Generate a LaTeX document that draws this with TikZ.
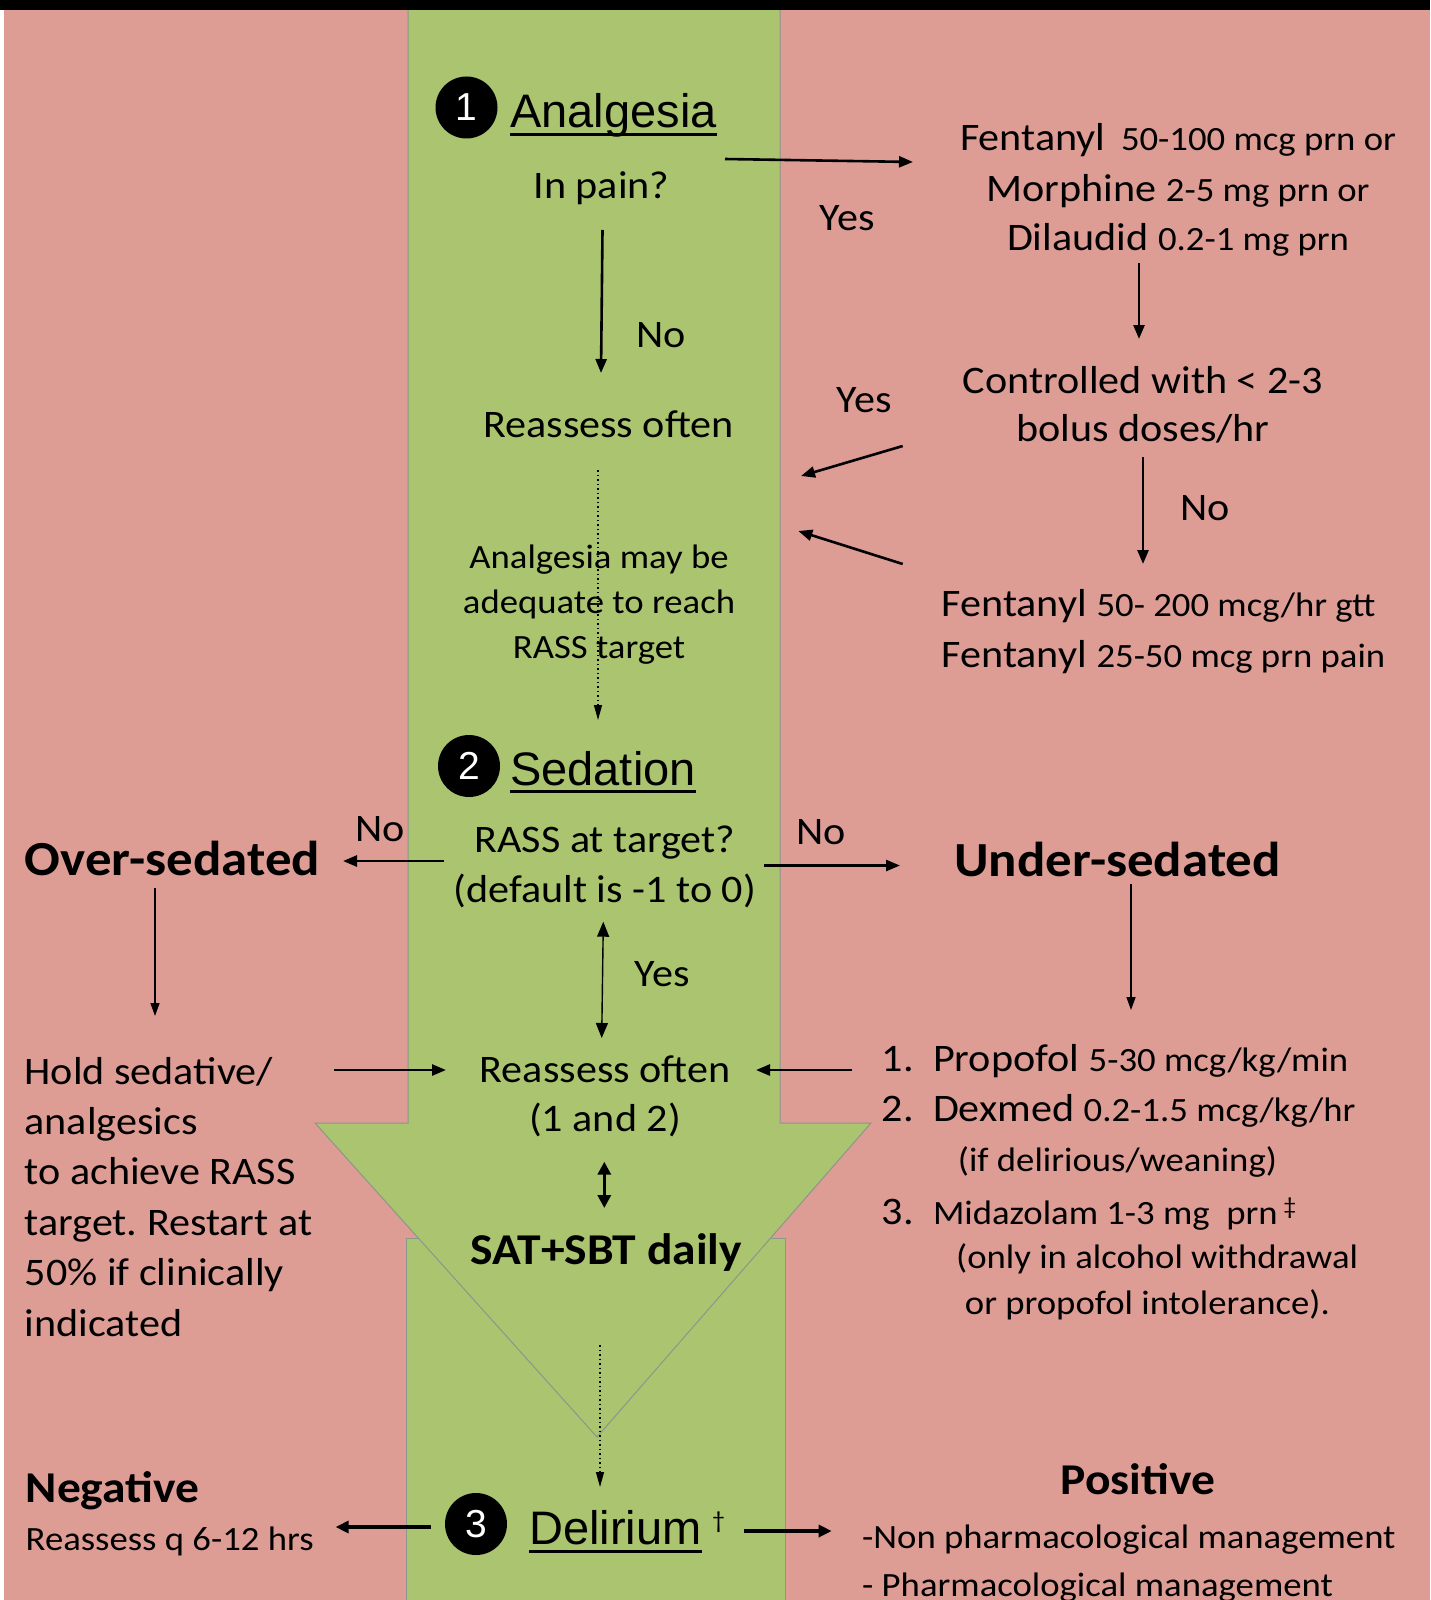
\documentclass[tikz,border=0pt]{standalone}
\usepackage{fontspec}
\setmainfont[FakeStretch=1.08]{Carlito}
\newfontfamily\arialf{Liberation Sans}
\usetikzlibrary{arrows.meta}
\definecolor{pinkc}{RGB}{221,157,149}
\definecolor{greenc}{RGB}{171,196,111}
\definecolor{outl}{RGB}{140,150,140}
\newcommand{\szA}{\fontsize{39}{47}\selectfont}
\newcommand{\szB}{\fontsize{34}{41}\selectfont}
\frenchspacing
\begin{document}
\begin{tikzpicture}[x=1pt,y=-1pt,
  tc/.style={inner sep=0pt, anchor=base, font=\szA},
  tl/.style={inner sep=0pt, anchor=base west, font=\szA},
  tsc/.style={inner sep=0pt, anchor=base, font=\szB},
  tsl/.style={inner sep=0pt, anchor=base west, font=\szB},
  hd/.style={inner sep=0pt, anchor=base west, font=\fontsize{49}{58}\selectfont\bfseries},
  hds/.style={inner sep=0pt, anchor=base west, font=\fontsize{44}{52}\selectfont\bfseries},
  sec/.style={inner sep=0pt, anchor=base west, font=\arialf\fontsize{47}{56}\selectfont},
  num/.style={circle, fill=black, minimum size=62pt, inner sep=0pt, text=white, font=\arialf\fontsize{39}{39}\selectfont},
  ul/.style={line width=3pt},
  arr/.style={line width=2.6pt, -{Triangle[length=14pt,width=11pt]}},
  thinarr/.style={line width=1.4pt, -{Triangle[length=13pt,width=9pt]}},
  dbl/.style={line width=1.4pt, {Triangle[length=15pt,width=12pt]}-{Triangle[length=15pt,width=12pt]}},
  dblthick/.style={line width=3.2pt, {Triangle[length=13pt,width=13pt]}-{Triangle[length=13pt,width=13pt]}},
  thickarr/.style={line width=3.2pt, -{Triangle[length=13pt,width=12pt]}},
  dotarr/.style={line width=1.3pt, dash pattern=on 1.5pt off 3pt, -{Triangle[length=15pt,width=8pt]}}
]
\useasboundingbox (0,0) rectangle (1430,1600);
\clip (0,0) rectangle (1430,1600);
% background
\fill[white] (0,0) rectangle (1430,1600);
\fill[pinkc] (4,0) rectangle (1430,1600);
\filldraw[fill=greenc, draw=outl, line width=1pt] (406,1238) rectangle (785,1620);
\fill[greenc] (408,0) -- (408,1123) -- (315,1123) -- (597,1437) -- (871,1123) -- (780,1123) -- (780,0) -- cycle;
\draw[outl, line width=1pt] (408,0) -- (408,1123) -- (315,1123) -- (597,1437) -- (871,1123) -- (780,1123) -- (780,0);
\fill[black] (0,0) rectangle (1430,10);

% ---------- 1 Analgesia ----------
\node[num] (c1) at (466.5,107.5) {1};
\node[sec] (anal) at (510,128) {Analgesia};
\draw[ul] ([yshift=-7pt]anal.base west) -- ([yshift=-7pt]anal.base east);
\node[tc] (pain) at (601.5,198) {In pain?};
\node[tc] (no1) at (661,347) {No};
\node[tc] (re1) at (608.5,437.7) {Reassess often};
\node[tsc] (am1) at (599,568) {Analgesia may be};
\node[tsc] (am2) at (599,613) {adequate to reach};
\node[tsc] (am3) at (599,658) {RASS target};
\node[tc] (yes1) at (847,230) {Yes};
\node[tc] (fen1) at (1178,150.6) {Fentanyl\hspace{0.4em}{\szB 50-100 mcg prn or}};
\node[tc] (fen2) at (1178,201.5) {Morphine {\szB 2-5 mg prn or}};
\node[tc] (fen3) at (1178,250.2) {Dilaudid {\szB 0.2-1 mg prn}};
\node[tc] (yes2) at (864,412) {Yes};
\node[tc] (ctl1) at (1143,393) {Controlled with < 2-3};
\node[tc] (ctl2) at (1143,441) {bolus doses/hr};
\node[tc] (no2) at (1205,520.3) {No};
\node[tl] (gtt1) at (941.5,616.5) {Fentanyl {\szB 50- 200 mcg/hr gtt}};
\node[tl] (gtt2) at (941.5,667) {Fentanyl {\szB 25-50 mcg prn pain}};

\coordinate (a1s) at (725,159);   \coordinate (a1e) at (913,162);
\coordinate (a2s) at (602.5,230); \coordinate (a2e) at (601,373);
\coordinate (a3s) at (1139,263);  \coordinate (a3e) at (1139,339);
\coordinate (a4s) at (902.7,446); \coordinate (a4e) at (801,476);
\coordinate (a5s) at (902.7,564); \coordinate (a5e) at (798.3,531);
\coordinate (a6s) at (1143,457);  \coordinate (a6e) at (1143,564);
\coordinate (a7s) at (598,470);   \coordinate (a7e) at (598,720);
\draw[arr] (a1s) -- (a1e);
\draw[arr] (a2s) -- (a2e);
\draw[arr] (a3s) -- (a3e);
\draw[arr] (a4s) -- (a4e);
\draw[arr] (a5s) -- (a5e);
\draw[arr] (a6s) -- (a6e);
\draw[dotarr] (a7s) -- (a7e);

% ---------- 2 Sedation ----------
\node[num] (c2) at (469,766) {2};
\node[sec] (sed) at (510,785) {Sedation};
\draw[ul] ([yshift=-6.7pt]sed.base west) -- ([yshift=-6.7pt]sed.base east);
\node[tc] (rass1) at (605,852.7) {RASS at target?};
\node[tc] (rass2) at (605,902) {(default is -1 to 0)};
\node[tc] (no3) at (380,841) {No};
\node[tc] (no4) at (821,844) {No};
\node[hd] (over) at (24.5,875.5) {Over-sedated};
\node[hd] (under) at (954,876.5) {Under-sedated};
\node[tc] (yes3) at (662,986) {Yes};
\node[tc] (re2a) at (605,1082) {Reassess often};
\node[tc] (re2b) at (605,1131) {(1 and 2)};
\node[hds] (sat) at (470.5,1264) {SAT+SBT daily};
\node[tl] (h1) at (24.5,1084) {Hold sedative/};
\node[tl] (h2) at (24.5,1134.4) {analgesics};
\node[tl] (h3) at (24.5,1184.8) {to achieve RASS};
\node[tl] (h4) at (24.5,1235.2) {target. Restart at};
\node[tl] (h5) at (24.5,1285.6) {50\% if clinically};
\node[tl] (h6) at (24.5,1336) {indicated};
\node[tl] (n1) at (881.7,1071) {1.};
\node[tl] (p1) at (932.8,1071) {Propofol {\szB 5-30 mcg/kg/min}};
\node[tl] (n2) at (881.7,1121) {2.};
\node[tl] (p2) at (932.8,1121) {Dexmed {\szB 0.2-1.5 mcg/kg/hr}};
\node[tsl] (p2b) at (957.7,1171) {(if delirious/weaning)};
\node[tl] (n3) at (881.7,1224) {3.};
\node[tsl] (p3) at (932.8,1224) {Midazolam 1-3 mg\ \ prn\,\raisebox{10pt}{\fontsize{24}{24}\selectfont ‡}};
\node[tsl] (p3b) at (956,1268.5) {(only in alcohol withdrawal};
\node[tsl] (p3c) at (964.7,1314) {or propofol intolerance).};

\coordinate (b1s) at (444,861);    \coordinate (b1e) at (343,861);
\coordinate (b2s) at (764,865.5);  \coordinate (b2e) at (900,865.5);
\coordinate (b3s) at (155,888);    \coordinate (b3e) at (155,1016);
\coordinate (b4s) at (1131,884);   \coordinate (b4e) at (1131,1010);
\coordinate (b5s) at (603.3,921.7);\coordinate (b5e) at (601.7,1038);
\coordinate (b6s) at (334,1070);   \coordinate (b6e) at (446,1070);
\coordinate (b7s) at (852,1070);   \coordinate (b7e) at (756,1070);
\coordinate (b8s) at (604.3,1161.7);\coordinate (b8e) at (604.3,1208);
\draw[arr] (b1s) -- (b1e);
\draw[arr] (b2s) -- (b2e);
\draw[thinarr] (b3s) -- (b3e);
\draw[thinarr] (b4s) -- (b4e);
\draw[dbl] (b5s) -- (b5e);
\draw[arr] (b6s) -- (b6e);
\draw[arr] (b7s) -- (b7e);
\draw[dblthick] (b8s) -- (b8e);

% ---------- 3 Delirium ----------
\coordinate (d0s) at (600,1345);   \coordinate (d0e) at (600,1487);
\draw[dotarr] (d0s) -- (d0e);
\node[num] (c3) at (476,1524) {3};
\node[sec] (del) at (529,1544) {Delirium};
\draw[ul] ([yshift=-7pt]del.base west) -- ([yshift=-7pt]del.base east);
\node[inner sep=0pt, anchor=base west, font=\fontsize{24}{24}\selectfont] (dag) at (712,1528) {†};
\node[hds] (neg) at (25.5,1502.5) {Negative};
\node[tsl] (negt) at (25.5,1550) {Reassess q 6-12 hrs};
\node[hds] (pos) at (1060.6,1494) {Positive};
\node[tsl] (pos1) at (862,1548) {-Non pharmacological management};
\node[tsl] (pos2) at (862,1596) {- Pharmacological management};
\coordinate (d1s) at (430.5,1527); \coordinate (d1e) at (335.6,1527);
\coordinate (d2s) at (744,1531);   \coordinate (d2e) at (831.7,1531);
\draw[thickarr] (d1s) -- (d1e);
\draw[thickarr] (d2s) -- (d2e);
\end{tikzpicture}
\end{document}
